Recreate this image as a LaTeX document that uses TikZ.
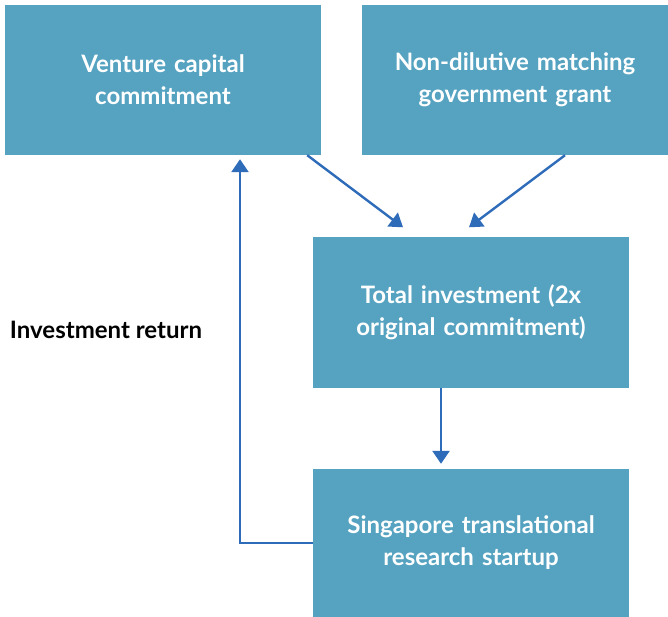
\documentclass[tikz,border=0pt]{standalone}
\usepackage{fontspec}
\setmainfont{Lato}
\usetikzlibrary{arrows.meta}
\definecolor{boxblue}{HTML}{56A3C1}
\definecolor{arrowblue}{HTML}{2E6BB8}
\tikzset{
  stage/.style={fill=boxblue, text=white, align=center, inner sep=0pt,
    font=\fontsize{24}{32}\selectfont\bfseries},
  flow/.style={draw=arrowblue, line width=2.4pt,
    -{Triangle[length=13pt,width=17pt]}}
}
\begin{document}
\begin{tikzpicture}[x=1pt,y=-1pt]
\useasboundingbox (0,0) rectangle (668,617);
\node[stage, minimum width=316pt, minimum height=150pt, text width=300pt] (vc) at (163,80){Venture capital\\commitment};
\node[stage, minimum width=306pt, minimum height=150pt, text width=300pt] (grant) at (515,80){Non-dilutive matching\\government grant};
\node[stage, minimum width=316pt, minimum height=150pt, text width=300pt] (total) at (471,312.5){Total investment (2x\\original commitment)};
\node[stage, minimum width=316pt, minimum height=148pt, text width=300pt] (startup) at (471,543){Singapore translational\\research startup};
\node[font=\fontsize{24}{32}\selectfont\bfseries, inner sep=0pt] (ret) at (106,330){Investment return};
\draw[flow] ([xshift=-14pt]vc.south east) -- ([xshift=-68pt,yshift=10pt]total.north);
\draw[flow] ([xshift=50pt]grant.south) -- ([xshift=-2pt,yshift=10pt]total.north);
\draw[flow] ([xshift=-30pt]total.south) -- ([xshift=-30pt,yshift=5pt]startup.north);
\draw[flow] (startup.west) -| ([xshift=77pt,yshift=-4pt]vc.south);
\end{tikzpicture}
\end{document}
